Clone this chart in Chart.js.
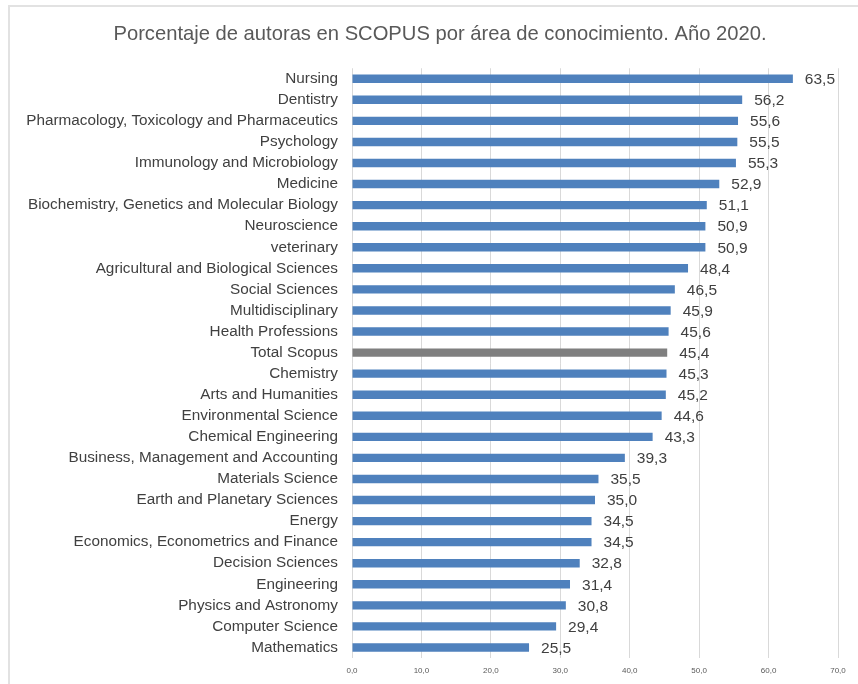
<!DOCTYPE html>
<html>
<head>
<meta charset="utf-8">
<script src="https://cdn.jsdelivr.net/npm/chart.js@4/dist/chart.umd.min.js"></script>
<style>
  body { margin: 0; background: #fff; }
  #wrap { width: 858px; height: 684px; }
</style>
</head>
<body>
<div id="wrap"><canvas id="barchart" width="858" height="684"></canvas></div>
<script>
const areas = [
    'Nursing', 'Dentistry', 'Pharmacology, Toxicology and Pharmaceutics', 'Psychology',
    'Immunology and Microbiology', 'Medicine', 'Biochemistry, Genetics and Molecular Biology',
    'Neuroscience', 'veterinary', 'Agricultural and Biological Sciences', 'Social Sciences',
    'Multidisciplinary', 'Health Professions', 'Total Scopus', 'Chemistry', 'Arts and Humanities',
    'Environmental Science', 'Chemical Engineering', 'Business, Management and Accounting',
    'Materials Science', 'Earth and Planetary Sciences', 'Energy',
    'Economics, Econometrics and Finance', 'Decision Sciences', 'Engineering',
    'Physics and Astronomy', 'Computer Science', 'Mathematics'
];
const womenPct = [
    63.5, 56.2, 55.6, 55.5, 55.3, 52.9, 51.1, 50.9, 50.9, 48.4, 46.5, 45.9, 45.6, 45.4,
    45.3, 45.2, 44.6, 43.3, 39.3, 35.5, 35.0, 34.5, 34.5, 32.8, 31.4, 30.8, 29.4, 25.5
];
const axisTicks = [0, 10, 20, 30, 40, 50, 60, 70];

const FONT = '"Liberation Sans", Arial, sans-serif';

function fmt(v) {
    return v.toFixed(1).replace('.', ',');
}

function getColor(label) {
    return label === 'Total Scopus' ? '#7f7f7f' : '#4f81bd';
}

// frame around the whole chart (only top and left edges are visible)
const framePlugin = {
    id: 'frame',
    afterLayout(chart) {
        // title sits a bit right of the canvas centre
        if (chart.titleBlock) chart.titleBlock.left = 42;
    },
    beforeDraw(chart) {
        const ctx = chart.ctx;
        ctx.save();
        ctx.fillStyle = '#fff';
        ctx.fillRect(0, 0, chart.width, chart.height);
        ctx.strokeStyle = '#e2e2e2';
        ctx.lineWidth = 2;
        ctx.strokeRect(9, 6, chart.width + 20, chart.height + 20);
        ctx.restore();
    }
};

// value labels at the end of each bar
const valueLabels = {
    id: 'valueLabels',
    afterDatasetsDraw(chart) {
        const ctx = chart.ctx;
        const meta = chart.getDatasetMeta(0);
        ctx.save();
        ctx.font = '15.5px ' + FONT;
        ctx.fillStyle = '#404040';
        ctx.textBaseline = 'middle';
        ctx.textAlign = 'left';
        meta.data.forEach(function(bar, i) {
            ctx.fillText(fmt(womenPct[i]), bar.x + 12, bar.y + 1);
        });
        ctx.restore();
    }
};

const ctx = document.getElementById('barchart').getContext('2d');
const chart = new Chart(ctx, {
    type: 'bar',
    data: {
        labels: areas,
        datasets: [{
            data: womenPct,
            backgroundColor: areas.map(getColor),
            borderWidth: 0,
            barPercentage: 0.4,
            categoryPercentage: 1
        }]
    },
    options: {
        indexAxis: 'y',
        responsive: false,
        animation: false,
        layout: { padding: { left: 0, right: 20, top: 0, bottom: 0 } },
        plugins: {
            legend: { display: false },
            tooltip: { enabled: false },
            title: {
                display: true,
                text: 'Porcentaje de autoras en SCOPUS por área de conocimiento. Año 2020.',
                color: '#595959',
                font: { family: FONT, size: 20.2, weight: 'normal' },
                padding: { top: 22, bottom: 22 }
            }
        },
        scales: {
            x: {
                min: 0,
                max: 70,
                afterBuildTicks: function(axis) {
                    axis.ticks = axisTicks.map(v => ({ value: v }));
                },
                afterFit: function(axis) { axis.height = 26; },
                grid: { color: '#d9d9d9', drawTicks: false },
                border: { display: false },
                ticks: {
                    color: '#595959',
                    padding: 8,
                    font: { family: FONT, size: 8 },
                    callback: function(v) { return fmt(v); }
                }
            },
            y: {
                afterFit: function(axis) { axis.width = 352; },
                grid: { display: false, drawTicks: false },
                border: { display: false },
                ticks: {
                    color: '#404040',
                    padding: 14,
                    autoSkip: false,
                    font: { family: FONT, size: 15.3 }
                }
            }
        }
    },
    plugins: [framePlugin, valueLabels]
});
</script>
</body>
</html>
